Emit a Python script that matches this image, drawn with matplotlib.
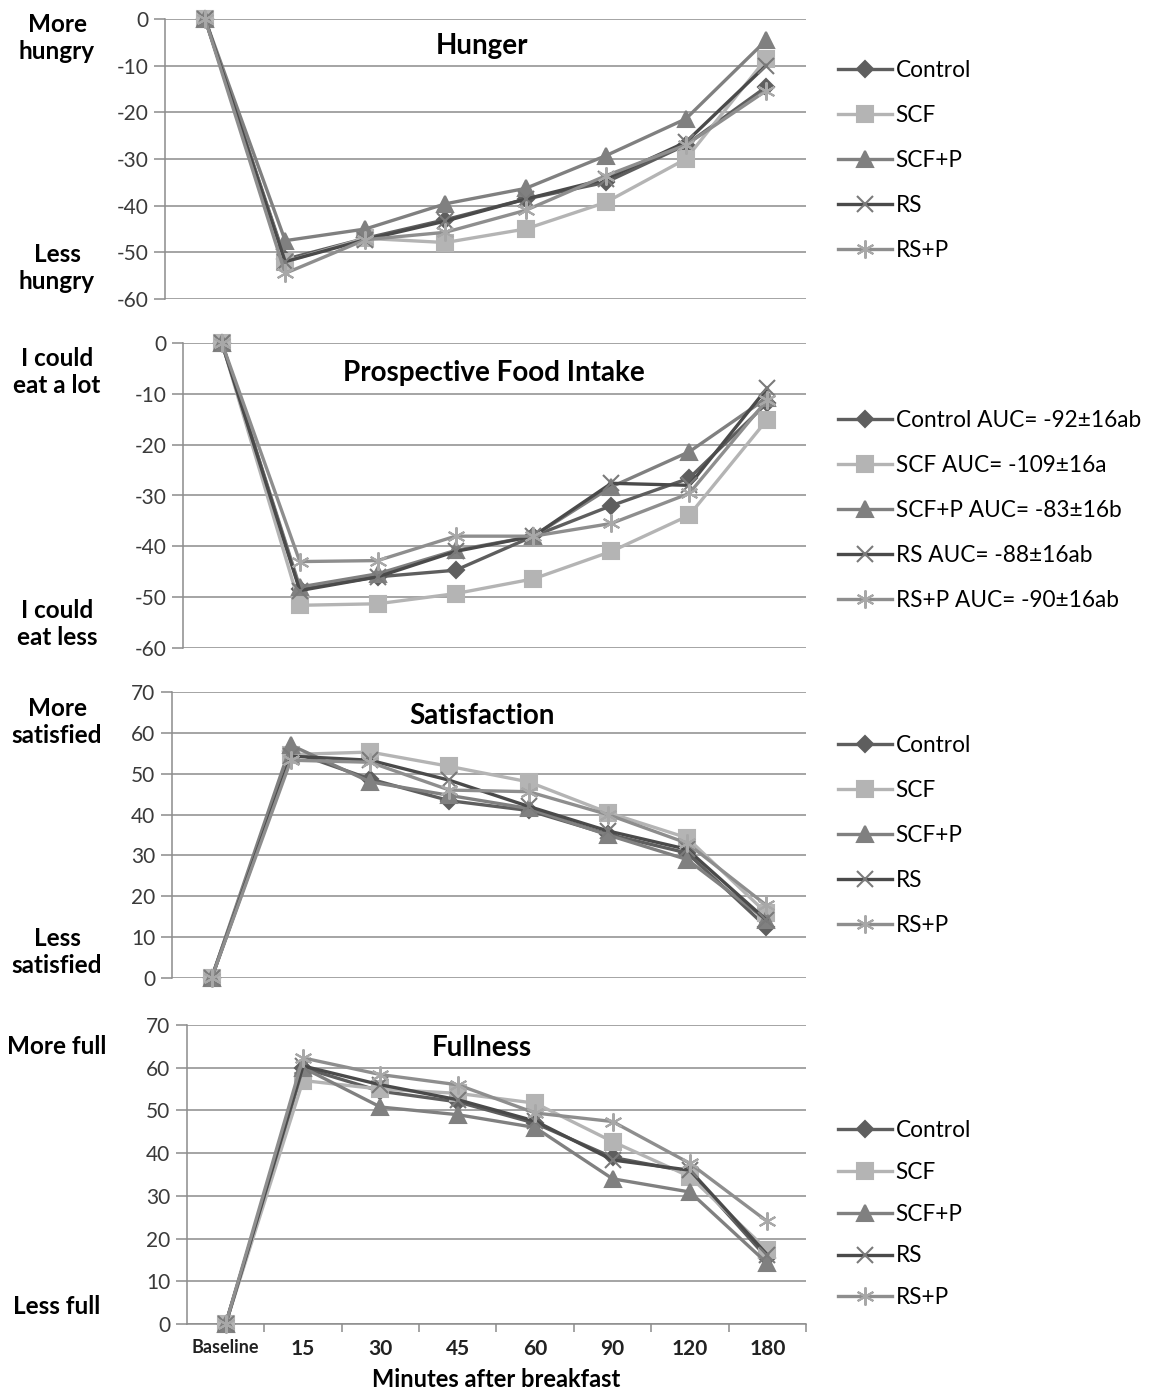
import matplotlib
matplotlib.use("Agg")
import matplotlib.pyplot as plt
import numpy as np

plt.rcParams.update({'font.family': ['Lato', 'DejaVu Sans'],
                     'font.size': 13,
                     'axes.unicode_minus': False})

# x categories
times = ['Baseline', '15', '30', '45', '60', '90', '120', '180']
groups = ['Control', 'SCF', 'SCF+P', 'RS', 'RS+P']

# Hunger
hunger_control = [0, -51.5, -47, -43, -38.6, -35, -27, -14.6]
hunger_scf = [0, -52, -47, -47.9, -45, -39.3, -30, -8.6]
hunger_scfp = [0, -47.5, -45, -39.6, -36.3, -29.3, -21.4, -4.6]
hunger_rs = [0, -52, -47.3, -43.3, -38.6, -34.3, -26.4, -10]
hunger_rsp = [0, -54.5, -47.3, -45.7, -41, -33.6, -27, -15.4]

# Prospective food intake
pfi_control = [0, -48.4, -46, -44.7, -38, -32, -26.6, -11.8]
pfi_scf = [0, -51.6, -51.3, -49.3, -46.4, -41, -33.9, -15.1]
pfi_scfp = [0, -48, -45.4, -40.8, -38, -28.3, -21.4, -10.8]
pfi_rs = [0, -48.7, -46, -41, -38, -27.6, -28, -8.9]
pfi_rsp = [0, -43, -42.8, -38, -38, -35.5, -29.6, -11.2]

# Satisfaction
sat_control = [0, 55.5, 48.7, 43.4, 41, 35.2, 30.6, 12.5]
sat_scf = [0, 54.7, 55.3, 51.8, 48, 40.5, 34.3, 15.9]
sat_scfp = [0, 57, 48, 44.7, 41.5, 35, 29, 14.2]
sat_rs = [0, 54.3, 53.3, 48.4, 42, 36, 31.5, 14.2]
sat_rsp = [0, 53.3, 52.8, 46, 45.6, 40, 33, 17.8]

# Fullness
full_control = [0, 60, 54.5, 52, 47, 39, 35.6, 15.4]
full_scf = [0, 57, 55, 54, 51.7, 42.7, 34.5, 17.3]
full_scfp = [0, 60, 50.8, 49, 46, 34, 30.9, 14.2]
full_rs = [0, 60.4, 56, 52.5, 47.5, 38.4, 36, 16.2]
full_rsp = [0, 62.3, 58.4, 56, 49.4, 47.4, 37.6, 24]

pfi_auc = ['-92\u00b116ab', '-109\u00b116a', '-83\u00b116b', '-88\u00b116ab', '-90\u00b116ab']

line_colors = ['#5e5e5e', '#b4b4b4', '#808080', '#4a4a4a', '#8e8e8e']
marker_colors = ['#5e5e5e', '#b4b4b4', '#808080', '#7a7a7a', '#a8a8a8']
markers = ['D', 's', '^', 'x', (6, 2, 0)]
msizes = [8, 11, 11, 11, 13]

W, H = 1152, 1393
fig = plt.figure(figsize=(W / 100, H / 100), dpi=100)


def px_axes(left, top, right, bottom):
    return fig.add_axes([left / W, 1 - bottom / H, (right - left) / W, (bottom - top) / H])


panels = [
    dict(box=(165, 19, 806, 299), data=[hunger_control, hunger_scf, hunger_scfp, hunger_rs, hunger_rsp],
         ylim=(-60, 0), title='Hunger', tx=482, ty=46,
         top_lbl='More\nhungry', bot_lbl='Less\nhungry', top_y=38, bot_y=268,
         leg_y=69, leg_sp=1.06, labels=groups),
    dict(box=(183, 343, 806, 648), data=[pfi_control, pfi_scf, pfi_scfp, pfi_rs, pfi_rsp],
         ylim=(-60, 0), title='Prospective Food Intake', tx=494, ty=373,
         top_lbl='I could\neat a lot', bot_lbl='I could\neat less', top_y=372, bot_y=624,
         leg_y=419, leg_sp=1.06,
         labels=['%s AUC= %s' % (g, a) for g, a in zip(groups, pfi_auc)]),
    dict(box=(172, 692, 806, 978), data=[sat_control, sat_scf, sat_scfp, sat_rs, sat_rsp],
         ylim=(0, 70), title='Satisfaction', tx=482, ty=716,
         top_lbl='More\nsatisfied', bot_lbl='Less\nsatisfied', top_y=722, bot_y=952,
         leg_y=744, leg_sp=1.06, labels=groups),
    dict(box=(187, 1025, 806, 1324), data=[full_control, full_scf, full_scfp, full_rs, full_rsp],
         ylim=(0, 70), title='Fullness', tx=482, ty=1048,
         top_lbl='More full', bot_lbl='Less full', top_y=1046, bot_y=1306,
         leg_y=1129, leg_sp=0.92, labels=groups),
]

x = np.arange(len(times)) + 0.5

for i, p in enumerate(panels):
    ax = px_axes(*p['box'])
    for j, series in enumerate(p['data']):
        ax.plot(x, series, color=line_colors[j], lw=2.4, marker=markers[j],
                markersize=msizes[j], markerfacecolor=marker_colors[j],
                markeredgecolor=marker_colors[j], markeredgewidth=1.5,
                label=p['labels'][j], zorder=3 + j, clip_on=False)
    ax.set_xlim(0, len(times))
    ax.set_ylim(*p['ylim'])
    ax.set_yticks(np.arange(p['ylim'][0], p['ylim'][1] + 1, 10))
    ax.yaxis.grid(True, color='#8c8c8c', lw=1.1)
    ax.set_axisbelow(True)
    for s in ['top', 'right']:
        ax.spines[s].set_visible(False)
    ax.spines['left'].set_color('#8c8c8c')
    ax.spines['left'].set_linewidth(1.1)
    ax.tick_params(axis='y', length=8, width=1.1, color='#8c8c8c', labelsize=15,
                   labelcolor='#3a3a3a', pad=4)
    if i == 3:
        ax.spines['bottom'].set_color('#8c8c8c')
        ax.spines['bottom'].set_linewidth(1.1)
        ax.set_xticks(np.arange(1, len(times) + 1))
        ax.set_xticklabels([])
        ax.set_xticks(x, minor=True)
        ax.set_xticklabels(times, minor=True)
        ax.tick_params(axis='x', which='major', length=6, width=1.1, color='#8c8c8c')
        ax.tick_params(axis='x', which='minor', length=0, pad=11, labelsize=15,
                       labelcolor='#222222')
        for t, lab in zip(ax.xaxis.get_minorticklabels(), times):
            t.set_fontweight('bold')
            if lab == 'Baseline':
                t.set_fontsize(13)
        ax.set_xlabel('Minutes after breakfast', fontsize=17, fontweight='bold', labelpad=6)
    else:
        ax.spines['bottom'].set_visible(False)
        ax.set_xticks([])
    fig.text(p['tx'] / W, 1 - p['ty'] / H, p['title'], fontsize=20, fontweight='bold',
             ha='center', va='center')
    fig.text(57 / W, 1 - p['top_y'] / H, p['top_lbl'], fontsize=17.5, fontweight='bold',
             ha='center', va='center', linespacing=1.25)
    fig.text(57 / W, 1 - p['bot_y'] / H, p['bot_lbl'], fontsize=17.5, fontweight='bold',
             ha='center', va='center', linespacing=1.25)
    ax.legend(loc='upper left', bbox_to_anchor=(838 / W, 1 - (p['leg_y'] - 9) / H),
              bbox_transform=fig.transFigure, frameon=False, fontsize=16.3,
              handlelength=2.4, handletextpad=0.15, labelspacing=p['leg_sp'],
              borderaxespad=0, borderpad=0)

fig.savefig('out.png', dpi=100, facecolor='white')
